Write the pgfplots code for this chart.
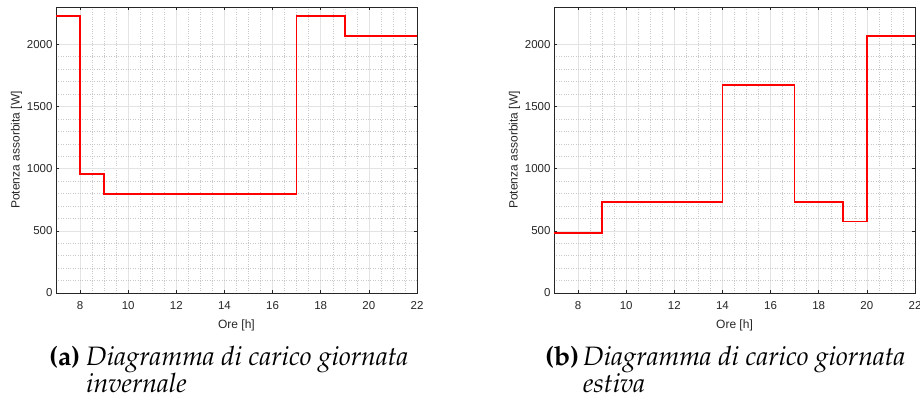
\documentclass[border=0pt]{standalone}
\usepackage[T1]{fontenc}
\usepackage{fontspec}
\setmainfont{Liberation Sans}
\usepackage{pgfplots}
\pgfplotsset{compat=1.18}

\definecolor{axgray}{HTML}{262626}
\definecolor{majgrid}{HTML}{E3E3E3}
\definecolor{mingrid}{HTML}{C8C8C8}

\newcommand{\capfont}{\fontencoding{T1}\fontfamily{ppl}\fontsize{26.6}{27}\selectfont}

\pgfplotsset{
  loadstyle/.style={
    scale only axis,
    width=361pt, height=286pt,
    anchor=south west,
    xmin=7, xmax=22, ymin=0, ymax=2300,
    xtick={8,10,...,22},
    ytick={0,500,...,2000},
    minor x tick num=3,
    minor y tick num=4,
    grid=both,
    major grid style={majgrid, line width=0.6pt},
    minor grid style={mingrid, dotted, line width=0.5pt},
    axis line style={axgray, line width=0.6pt},
    tick style={axgray, line width=0.6pt},
    tick align=inside,
    major tick length=3pt,
    minor tick length=0pt,
    ticklabel style={font=\fontsize{11.5}{13}\selectfont, text=axgray},
    xticklabel style={yshift=-5pt},
    label style={font=\fontsize{12}{14}\selectfont, text=axgray},
    /pgf/number format/assume math mode=true,
    /pgf/number format/set thousands separator={},
    xlabel={Ore [h]},
    ylabel={Potenza assorbita [W]},
    xlabel style={yshift=-3pt},
    ylabel style={yshift=-2pt},
  }
}

\begin{document}
\begin{tikzpicture}
\path[use as bounding box] (0,0) rectangle (920pt,406pt);

% (a) giornata invernale
\begin{axis}[loadstyle, at={(56pt,113pt)}]
\addplot[const plot, red, line width=1.5pt] coordinates {
  (7,2228)(8,958)(9,798)(17,2228)(19,2066)(22,2066)
};
\end{axis}

% (b) giornata estiva
\begin{axis}[loadstyle, at={(554pt,113pt)}]
\addplot[const plot, red, line width=1.5pt] coordinates {
  (7,482)(9,731)(14,1673)(17,731)(19,573)(20,2066)(22,2066)
};
\end{axis}

\node[anchor=base west, inner sep=0pt] at (49pt,40pt) {\capfont\textbf{(a)}};
\node[anchor=base west, inner sep=0pt] at (86pt,40pt)
  {\capfont\textit{Diagramma di carico giornata}};
\node[anchor=base west, inner sep=0pt] at (86pt,13pt)
  {\capfont\textit{invernale}};
\node[anchor=base west, inner sep=0pt] at (545pt,40pt) {\capfont\textbf{(b)}};
\node[anchor=base west, inner sep=0pt] at (583pt,40pt)
  {\capfont\textit{Diagramma di carico giornata}};
\node[anchor=base west, inner sep=0pt] at (583pt,13pt)
  {\capfont\textit{estiva}};
\end{tikzpicture}
\end{document}
